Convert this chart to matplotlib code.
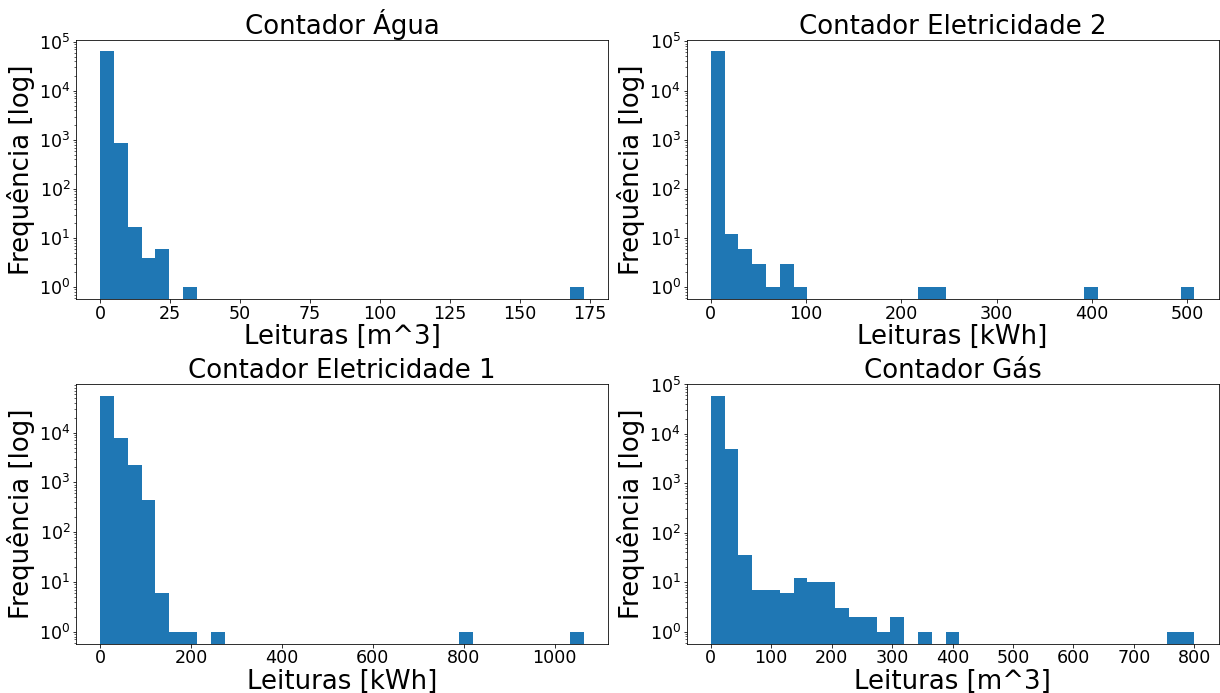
import numpy as np
import matplotlib
matplotlib.use("Agg")
import matplotlib.pyplot as plt

# Histogram counts per meter (35 equal-width bins each)
agua_range = (0.0, 172.7)
agua_counts = [64000, 865, 17, 4, 6, 0, 1,
               0, 0, 0, 0, 0, 0, 0, 0, 0, 0, 0, 0, 0, 0,
               0, 0, 0, 0, 0, 0, 0, 0, 0, 0, 0, 0, 0, 1]

elec2_range = (0.0, 507.5)
elec2_counts = [63000, 12, 6, 3, 1, 3, 1,
                0, 0, 0, 0, 0, 0, 0, 0, 1, 1,
                0, 0, 0, 0, 0, 0, 0, 0, 0, 0, 1,
                0, 0, 0, 0, 0, 0, 1]

elec1_range = (0.0, 1064.0)
elec1_counts = [55000, 7950, 2270, 446, 6, 1, 1, 0, 1,
                0, 0, 0, 0, 0, 0, 0, 0, 0, 0, 0, 0, 0, 0, 0, 0, 0, 1,
                0, 0, 0, 0, 0, 0, 0, 1]

gas_range = (0.0, 800.0)
gas_counts = [59000, 4840, 35, 7, 7, 6, 12, 10, 10, 3, 2, 2, 1, 2,
              0, 1, 0, 1,
              0, 0, 0, 0, 0, 0, 0, 0, 0, 0, 0, 0, 0, 0, 0, 1, 1]

titles = ["Contador Água", "Contador Eletricidade 2",
          "Contador Eletricidade 1", "Contador Gás"]
xlabels = ["Leituras [m^3]", "Leituras [kWh]", "Leituras [kWh]", "Leituras [m^3]"]
ylabel = "Frequência [log]"

panels = [(agua_range, agua_counts), (elec2_range, elec2_counts),
          (elec1_range, elec1_counts), (gas_range, gas_counts)]

DPI = 72
W, H = 1220.0, 693.0
fig = plt.figure(figsize=(W / DPI, H / DPI), dpi=DPI)
boxes = [(76, 39.5, 532, 259.5), (686.5, 39.5, 532, 259.5),
         (76, 384, 532, 259.5), (686.5, 384, 532, 259.5)]

for (rng, counts), title, xl, (x0, y0, w, h) in zip(panels, titles, xlabels, boxes):
    ax = fig.add_axes([x0 / W, 1 - (y0 + h) / H, w / W, h / H])
    edges = np.linspace(rng[0], rng[1], len(counts) + 1)
    ax.hist(edges[:-1], bins=edges, weights=counts, log=True, color="#1f77b4")
    ax.set_title(title, fontsize=26, pad=0)
    ax.set_xlabel(xl, fontsize=26, labelpad=1.5)
    ax.set_ylabel(ylabel, fontsize=26, labelpad=4)
    ax.tick_params(axis="both", which="major", labelsize=17.5, pad=2)

fig.savefig("out.png", dpi=DPI)
